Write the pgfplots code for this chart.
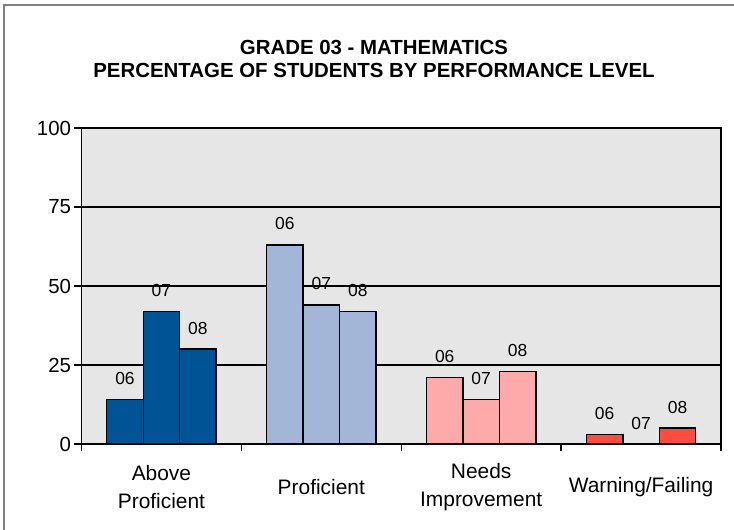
\documentclass[border=0pt]{standalone}
\usepackage{fontspec}
\setmainfont{Liberation Sans}
\usepackage{pgfplots}
\pgfplotsset{compat=1.18}
\definecolor{apblue}{RGB}{0,84,150}
\definecolor{pblue}{RGB}{163,182,216}
\definecolor{nipink}{RGB}{255,170,170}
\definecolor{wfred}{RGB}{255,76,64}
\definecolor{bggray}{RGB}{230,230,230}
\definecolor{framegray}{RGB}{128,128,128}
\begin{document}
\begin{tikzpicture}
\useasboundingbox (0bp,0bp) rectangle (734bp,530bp);
\draw[framegray, line width=1.2bp] (4bp,-10bp) -- (4bp,525bp) -- (750bp,525bp);
\node[font=\fontsize{20.5}{24}\selectfont\bfseries, anchor=base] at (374bp,475bp) {GRADE 03 - MATHEMATICS};
\node[font=\fontsize{20.5}{24}\selectfont\bfseries, anchor=base] at (374bp,452bp) {PERCENTAGE OF STUDENTS BY PERFORMANCE LEVEL};
\begin{axis}[
  at={(81.5bp,86bp)}, anchor=south west,
  scale only axis, width=639.5bp, height=316bp,
  xmin=-0.5, xmax=3.5, ymin=0, ymax=100,
  ytick={0,25,50,75,100},
  ymajorgrids, major grid style={black, line width=1.3bp},
  xtick={-0.5,0.5,1.5,2.5,3.5}, xticklabels={},
  tick align=outside, major tick length=7bp,
  xtick pos=bottom, ytick pos=left,
  tick style={black, line width=1.3bp},
  axis line style={black, line width=1.3bp},
  axis background/.style={fill=bggray},
  /pgf/number format/assume math mode=true,
  yticklabel style={font=\fontsize{20.5}{24}\selectfont},
  extra x ticks={0,1,2,3},
  extra x tick labels={{Above\\Proficient},{Proficient},{Needs\\Improvement},{Warning/Failing}},
  extra x tick style={major tick length=0pt, grid=none,
    xticklabel style={anchor=center, yshift=-43bp, align=center, font=\fontsize{21}{28}\selectfont}},
  every node near coord/.append style={font=\fontsize{17.5}{20}\selectfont, yshift=21bp, text=black},
  nodes near coords align=center,
]
\addplot[ybar, bar width=0.228, bar shift=0pt, fill=apblue, draw=black, line width=1.4bp,
  nodes near coords={\pgfplotspointmeta}, point meta=explicit symbolic]
  coordinates {(-0.228,14) [06] (0,42) [07] (0.228,30) [08]};
\addplot[ybar, bar width=0.228, bar shift=0pt, fill=pblue, draw=black, line width=1.4bp,
  nodes near coords={\pgfplotspointmeta}, point meta=explicit symbolic]
  coordinates {(0.772,63) [06] (1,44) [07] (1.228,42) [08]};
\addplot[ybar, bar width=0.228, bar shift=0pt, fill=nipink, draw=black, line width=1.4bp,
  nodes near coords={\pgfplotspointmeta}, point meta=explicit symbolic]
  coordinates {(1.772,21) [06] (2,14) [07] (2.228,23) [08]};
\addplot[ybar, bar width=0.228, bar shift=0pt, fill=wfred, draw=black, line width=1.4bp,
  nodes near coords={\pgfplotspointmeta}, point meta=explicit symbolic]
  coordinates {(2.772,3) [06] (3,0) [07] (3.228,5) [08]};
\end{axis}
\end{tikzpicture}
\end{document}
